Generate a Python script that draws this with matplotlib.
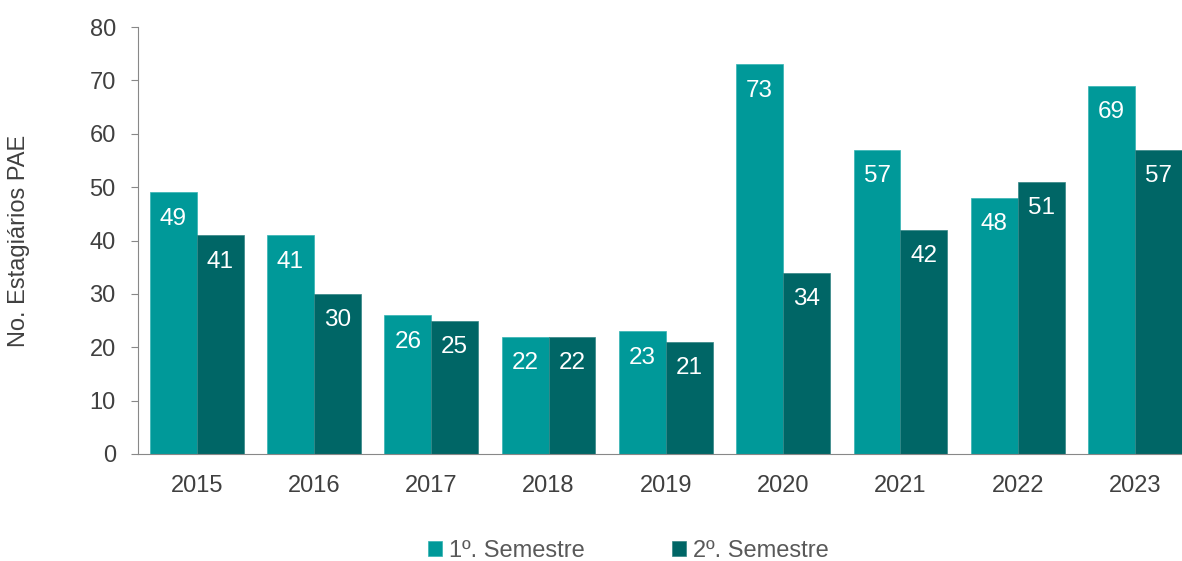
import matplotlib
matplotlib.use("Agg")
import matplotlib.pyplot as plt
import numpy as np

plt.rcParams['font.family'] = ['Liberation Sans', 'DejaVu Sans']

years = ["2015", "2016", "2017", "2018", "2019", "2020", "2021", "2022", "2023"]
sem1 = [49, 41, 26, 22, 23, 73, 57, 48, 69]
sem2 = [41, 30, 25, 22, 21, 34, 42, 51, 57]
series_names = ["1º. Semestre", "2º. Semestre"]
colors = ["#009999", "#006666"]

fig = plt.figure(figsize=(11.82, 5.61), dpi=100)
ax = fig.add_axes([138/1182, (561-454)/561, (1182-138)/1182, (454-27)/561])

x = np.arange(len(years))
w = 0.4
b1 = ax.bar(x - w/2, sem1, w, color=colors[0], label=series_names[0], edgecolor="#33b3b3", linewidth=0.5)
b2 = ax.bar(x + w/2, sem2, w, color=colors[1], label=series_names[1], edgecolor="#338585", linewidth=0.5)

for bars, vals in ((b1, sem1), (b2, sem2)):
    for r, v in zip(bars, vals):
        ax.annotate(str(v), (r.get_x() + r.get_width()/2, v), xytext=(0, -19),
                    textcoords="offset points", ha="center", va="center",
                    color="white", fontsize=17.5)

ax.set_xlim(-0.5, 8.4)
ax.set_ylim(0, 80)
ax.set_yticks(range(0, 81, 10))
ax.set_xticks(x)
ax.set_xticklabels(years)
ax.tick_params(axis="x", length=0, pad=15, labelsize=17, labelcolor="#404040")
ax.tick_params(axis="y", length=5, color="#888888", pad=11, labelsize=17, labelcolor="#404040")
for s in ("top", "right"):
    ax.spines[s].set_visible(False)
ax.spines["left"].set_color("#888888")
ax.spines["bottom"].set_color("#888888")
ax.set_ylabel("No. Estagiários PAE", fontsize=17, color="#404040")
ax.yaxis.set_label_coords(-0.103, 0.5)

leg = fig.legend(handles=[b1, b2], labels=series_names, loc="center", bbox_to_anchor=(0.5315, 0.018),
                 ncol=2, frameon=False, fontsize=17, handlelength=0.6, handleheight=0.6,
                 handletextpad=0.3, columnspacing=3.7)
for t in leg.get_texts():
    t.set_color("#595959")

fig.savefig("out.png", dpi=100)
